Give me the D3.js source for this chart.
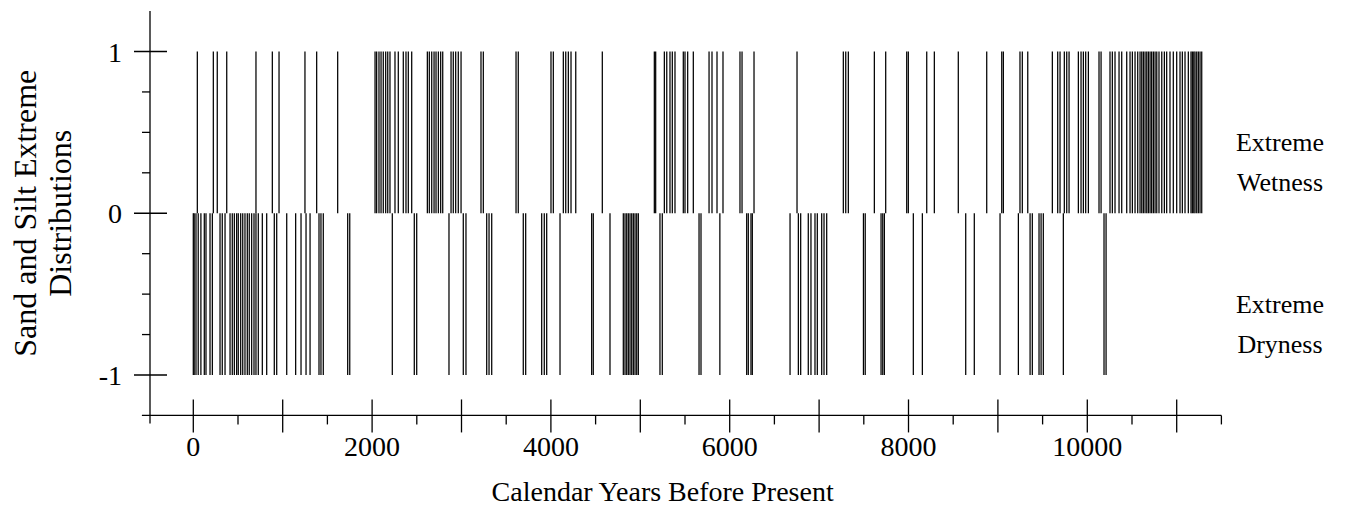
<!DOCTYPE html>
<html>
<head>
<meta charset="utf-8">
<script src="https://cdn.jsdelivr.net/npm/d3@7"></script>
<style>
  html, body { margin: 0; padding: 0; background: #fff; }
  svg text { font-family: "Liberation Serif", "Times New Roman", serif; fill: #000; }
</style>
</head>
<body>
<svg id="chart" width="1355" height="529"></svg>
<script>
// Years (cal. BP) with an extreme-wetness signal (+1)
const wetYears = [45, 224, 268, 374, 701, 884, 959, 1249, 1380, 1615,
  2033, 2051, 2077, 2100, 2125, 2152, 2175, 2200, 2256, 2293, 2349, 2379, 2405, 2443,
  2618, 2640, 2667, 2693, 2715, 2741, 2767, 2790, 2883, 2908, 2935, 2964, 2995,
  3218, 3244, 3610, 3635, 4001, 4027, 4139, 4166, 4195, 4225, 4278, 4575,
  5157, 5172, 5269, 5296, 5332, 5358, 5388, 5481, 5500, 5530, 5593,
  5769, 5802, 5858, 5925, 6115, 6138, 6272, 6753,
  7271, 7298, 7327, 7618, 7745, 7980, 7998, 8204, 8289, 8557,
  8875, 9043, 9061, 9247, 9273, 9334, 9609, 9669, 9695, 9743, 9770, 9796,
  9900, 9930, 9956, 9982, 10012,
  10131, 10154, 10254, 10280, 10310, 10355, 10385, 10441, 10478, 10504, 10534, 10564,
  10590, 10609, 10627, 10646, 10665, 10683, 10702, 10720, 10739, 10758, 10777, 10802,
  10833, 10862, 10888, 10925, 10962, 11000, 11037, 11063, 11093, 11130, 11160, 11175,
  11191, 11205, 11224, 11242, 11261, 11280];

// Years (cal. BP) with an extreme-dryness signal (-1)
const dryYears = [0, 10, 30, 55, 85, 123, 142, 187, 213, 299, 324, 355,
  411, 436, 459, 485, 503, 530, 553, 578, 604, 626, 653, 679, 701, 727, 772, 821,
  906, 933, 1045, 1145, 1205, 1261, 1306, 1406, 1428, 1454, 1727, 1750,
  2226, 2472, 2499, 2860, 3020, 3050, 3282, 3308, 3338, 3691, 3718, 3897, 3926, 3953, 4102,
  4456, 4474, 4661, 4810, 4829, 4848, 4866, 4885, 4904, 4922, 4941, 4960, 4978,
  5220, 5246, 5657, 5679, 5890, 6190, 6208, 6238, 6253, 6675, 6768, 6794, 6879, 6909,
  6954, 6980, 7029, 7055, 7085, 7496, 7516, 7693, 7712, 7730, 8054, 8155,
  8640, 8736, 9024, 9229, 9360, 9385, 9460, 9483, 9508, 9732, 10187, 10210];

const xMajorTicks = [0, 1000, 2000, 3000, 4000, 5000, 6000, 7000, 8000, 9000, 10000, 11000];
const xMinorTicks = [500, 1500, 2500, 3500, 4500, 5500, 6500, 7500, 8500, 9500, 10500, 11500];
const xTickLabels = [0, 2000, 4000, 6000, 8000, 10000];
const yMajorTicks = [-1, 0, 1];
const yMinorTicks = [-0.75, -0.5, -0.25, 0.25, 0.5, 0.75];

const svg = d3.select("#chart");
const x = d3.scaleLinear().domain([0, 11500]).range([193.3, 1221.4]);
const y = d3.scaleLinear().domain([-1, 1]).range([375, 51.5]);

const axisX = 150;               // horizontal position of the vertical axis
const axisY = y(-1.25);          // vertical position of the horizontal axis
const ink = "#000";

// event lines
const events = svg.append("g").attr("stroke", ink).attr("stroke-width", 1.25);
events.selectAll("line.wet").data(wetYears).join("line")
  .attr("class", "wet")
  .attr("x1", d => x(d)).attr("x2", d => x(d))
  .attr("y1", y(0)).attr("y2", y(1));
events.selectAll("line.dry").data(dryYears).join("line")
  .attr("class", "dry")
  .attr("x1", d => x(d)).attr("x2", d => x(d))
  .attr("y1", y(0)).attr("y2", y(-1));

// vertical axis
const ax = svg.append("g").attr("stroke", ink).attr("stroke-width", 1.3);
ax.append("line").attr("x1", axisX).attr("x2", axisX).attr("y1", y(1.25)).attr("y2", y(-1.3));
ax.selectAll("line.ymaj").data(yMajorTicks).join("line").attr("class", "ymaj")
  .attr("x1", axisX - 16).attr("x2", axisX + 17).attr("y1", d => y(d)).attr("y2", d => y(d));
ax.selectAll("line.ymin").data(yMinorTicks).join("line").attr("class", "ymin")
  .attr("x1", axisX - 8).attr("x2", axisX).attr("y1", d => y(d)).attr("y2", d => y(d));

// horizontal axis
ax.append("line").attr("x1", x(-575)).attr("x2", x(11500)).attr("y1", axisY).attr("y2", axisY);
ax.selectAll("line.xmaj").data(xMajorTicks).join("line").attr("class", "xmaj")
  .attr("x1", d => x(d)).attr("x2", d => x(d)).attr("y1", axisY - 16).attr("y2", axisY + 17);
ax.selectAll("line.xmin").data(xMinorTicks).join("line").attr("class", "xmin")
  .attr("x1", d => x(d)).attr("x2", d => x(d)).attr("y1", axisY).attr("y2", axisY + 9);

const tickFs = 28;
svg.selectAll("text.ylab").data(yMajorTicks).join("text").attr("class", "ylab")
  .attr("x", 122).attr("y", d => y(d) + 10)
  .attr("text-anchor", "end").attr("font-size", tickFs)
  .text(d => d);

svg.selectAll("text.xlab").data(xTickLabels).join("text").attr("class", "xlab")
  .attr("x", d => x(d)).attr("y", 456)
  .attr("text-anchor", "middle").attr("font-size", tickFs)
  .text(d => d);

svg.append("text").attr("x", x(5250)).attr("y", 501)
  .attr("text-anchor", "middle").attr("font-size", 28)
  .text("Calendar Years Before Present");

const yt = svg.append("text").attr("transform", `translate(36,${y(0)}) rotate(-90)`)
  .attr("text-anchor", "middle").attr("font-size", 32);
yt.append("tspan").attr("x", 0).attr("dy", 0).text("Sand and Silt Extreme");
yt.append("tspan").attr("x", 0).attr("dy", 35).text("Distributions");

const side = [
  { lines: ["Extreme", "Wetness"], v: 0.5 },
  { lines: ["Extreme", "Dryness"], v: -0.5 }
];
side.forEach(s => {
  const t = svg.append("text").attr("text-anchor", "middle").attr("font-size", 26)
    .attr("transform", `translate(1280,${y(s.v) + 19})`);
  t.append("tspan").attr("x", 0).attr("dy", 0).text(s.lines[0]);
  t.append("tspan").attr("x", 0).attr("dy", 40).text(s.lines[1]);
});
</script>
</body>
</html>
